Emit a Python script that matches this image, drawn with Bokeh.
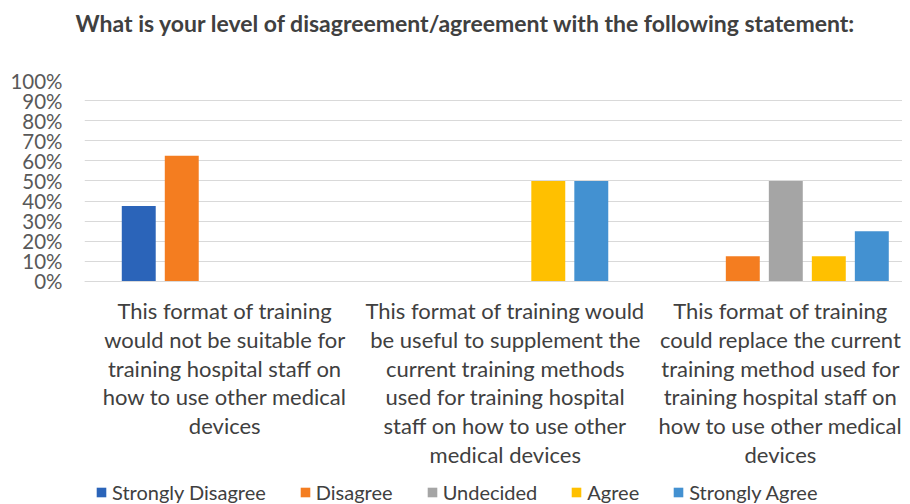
from bokeh.plotting import figure
from bokeh.models import (Range1d, FixedTicker, NumeralTickFormatter, Legend,
                          LegendItem, ColumnDataSource, Title)
from bokeh.transform import dodge
from bokeh.embed import file_html
from bokeh.resources import INLINE

# ---- data ----
categories = [
    "This format of training\nwould not be suitable for\ntraining hospital staff on\nhow to use other medical\ndevices",
    "This format of training would\nbe useful to supplement the\ncurrent training methods\nused for training hospital\nstaff on how to use other\nmedical devices",
    "This format of training\ncould replace the current\ntraining method used for\ntraining hospital staff on\nhow to use other medical\ndevices",
]
series_names = ["Strongly Disagree", "Disagree", "Undecided", "Agree", "Strongly Agree"]
strongly_disagree = [0.375, 0.0, 0.0]
disagree = [0.625, 0.0, 0.125]
undecided = [0.0, 0.0, 0.5]
agree = [0.0, 0.5, 0.125]
strongly_agree = [0.0, 0.5, 0.25]
y_ticks = [0, 0.1, 0.2, 0.3, 0.4, 0.5, 0.6, 0.7, 0.8, 0.9, 1.0]
title_text = "What is your level of disagreement/agreement with the following statement:"

colors = ["#2B64B9", "#F47D20", "#A5A5A5", "#FFC000", "#4391D1"]
FONT = "Lato"

xpos = list(range(len(categories)))
src = ColumnDataSource(dict(x=xpos, sd=strongly_disagree, d=disagree, u=undecided,
                            a=agree, sa=strongly_agree))

# frame extends below 0 so the legend can sit inside it at the bottom
p = figure(width=None, height=None, frame_width=818, frame_height=424, title=None,
           output_backend="svg", toolbar_location=None,
           x_range=Range1d(-0.5, 2.416), y_range=Range1d(-1.1095, 1.0))
p.min_border_left = 84
p.min_border_right = 0
p.min_border_top = 80
p.min_border_bottom = 0
p.outline_line_color = None
p.background_fill_color = "white"
p.border_fill_color = "white"

# spacer (closest to the frame) then the real title above it
spacer = Title(text=" ", text_font_size="10px", standoff=31)
p.add_layout(spacer, "above")
main_title = Title(text=title_text, align="left", offset=-9, standoff=0,
                   text_font=FONT, text_font_size="23px", text_font_style="bold",
                   text_color="#404040")
p.add_layout(main_title, "above")

step = 0.1533
width = 0.121
offsets = [-2 * step, -step, 0, step, 2 * step]
fields = ["sd", "d", "u", "a", "sa"]
renderers = []
for f, off, c in zip(fields, offsets, colors):
    r = p.vbar(x=dodge("x", off), top=f, bottom=0, width=width, source=src,
               fill_color=c, line_color=None)
    renderers.append(r)

# axes
p.yaxis.ticker = FixedTicker(ticks=y_ticks)
p.yaxis.formatter = NumeralTickFormatter(format="0%")
p.yaxis.axis_line_color = None
p.yaxis.major_tick_line_color = None
p.yaxis.minor_tick_line_color = None
p.yaxis.major_tick_out = 0
p.yaxis.major_tick_in = 0
p.yaxis.major_label_text_font = FONT
p.yaxis.major_label_text_font_size = "20.5px"
p.yaxis.major_label_text_color = "#595959"
p.yaxis.major_label_standoff = 22

p.xaxis.fixed_location = 0
p.xaxis.ticker = FixedTicker(ticks=xpos)
p.xaxis.major_label_overrides = {i: c for i, c in enumerate(categories)}
p.xaxis.axis_line_color = "#D9D9D9"
p.xaxis.major_tick_line_color = None
p.xaxis.minor_tick_line_color = None
p.xaxis.major_tick_out = 0
p.xaxis.major_tick_in = 0
p.xaxis.major_label_text_font = FONT
p.xaxis.major_label_text_font_size = "22px"
p.xaxis.major_label_text_color = "#404040"
p.xaxis.major_label_text_line_height = 1.06
p.xaxis.major_label_standoff = 16

p.xgrid.grid_line_color = None
p.ygrid.ticker = FixedTicker(ticks=y_ticks)
p.ygrid.grid_line_color = "#D9D9D9"
p.ygrid.grid_line_width = 1

legend = Legend(items=[LegendItem(label=n, renderers=[r]) for n, r in zip(series_names, renderers)],
                orientation="horizontal", location=(11, 0))
legend.border_line_color = None
legend.background_fill_alpha = 0
legend.padding = 0
legend.margin = 0
legend.spacing = 33
legend.glyph_width = 12
legend.glyph_height = 12
legend.label_standoff = 5
legend.label_text_font = FONT
legend.label_text_font_size = "20px"
legend.label_text_color = "#404040"
p.add_layout(legend, "center")

open("out.html", "w").write(file_html(p, INLINE))
